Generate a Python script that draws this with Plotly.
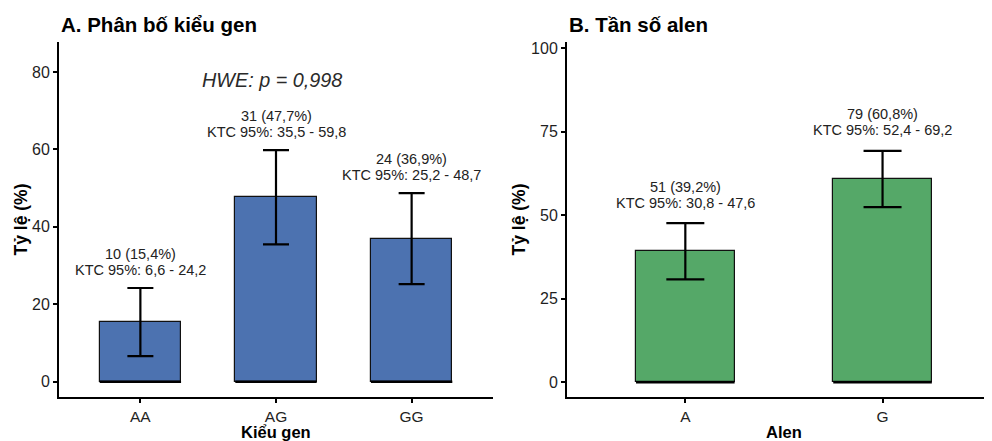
import plotly.graph_objects as go

# ---- data ----
genotypes = ["AA", "AG", "GG"]
geno_counts = [10, 31, 24]
geno_pct = [15.4, 47.7, 36.9]
geno_lo = [6.6, 35.5, 25.2]
geno_hi = [24.2, 59.8, 48.7]

alleles = ["A", "G"]
allele_counts = [51, 79]
allele_pct = [39.2, 60.8]
allele_lo = [30.8, 52.4]
allele_hi = [47.6, 69.2]

hwe_text = "HWE: p = 0,998"
left_ticks = [0, 20, 40, 60, 80]
right_ticks = [0, 25, 50, 75, 100]

OFF = 8  # page body margin
W, H = 992 - OFF, 441 - OFF
FONT = "Liberation Sans, Arial, sans-serif"
BLUE = "#4C72B0"
GREEN = "#55A868"
TXT = "#222222"

def fmt(v):
    return f"{v:.1f}".replace(".", ",")

def px_x(p):
    return (p - OFF) / W

def px_y(p):
    return 1 - (p - OFF) / H

fig = go.Figure()

panels = [
    dict(cats=genotypes, cnt=geno_counts, pct=geno_pct, lo=geno_lo, hi=geno_hi,
         color=BLUE, width=0.6, cap=13, xa="x", ya="y", shifts=(18, 34)),
    dict(cats=alleles, cnt=allele_counts, pct=allele_pct, lo=allele_lo, hi=allele_hi,
         color=GREEN, width=0.5, cap=19, xa="x2", ya="y2", shifts=(20.5, 36.5)),
]

annotations = []
for p in panels:
    idx = list(range(len(p["cats"])))
    fig.add_trace(go.Bar(
        x=idx, y=p["pct"], width=p["width"],
        marker=dict(color=p["color"], line=dict(color="#111111", width=1.2)),
        error_y=dict(type="data", symmetric=False,
                     array=[h - v for h, v in zip(p["hi"], p["pct"])],
                     arrayminus=[v - l for v, l in zip(p["pct"], p["lo"])],
                     color="black", thickness=2.2, width=p["cap"]),
        xaxis=p["xa"], yaxis=p["ya"], showlegend=False, hoverinfo="skip",
    ))
    # thick bottom edge of bars
    bx, by = [], []
    for i in idx:
        bx += [i - p["width"] / 2, i + p["width"] / 2, None]
        by += [0, 0, None]
    fig.add_trace(go.Scatter(x=bx, y=by, mode="lines",
                             line=dict(color="black", width=2.5),
                             xaxis=p["xa"], yaxis=p["ya"], showlegend=False,
                             hoverinfo="skip"))
    for i in idx:
        line1 = f"{p['cnt'][i]} ({fmt(p['pct'][i])}%)"
        line2 = f"KTC 95%: {fmt(p['lo'][i])} - {fmt(p['hi'][i])}"
        for txt, sh in ((line2, p["shifts"][0]), (line1, p["shifts"][1])):
            annotations.append(dict(
                x=i, y=p["hi"][i], xref=p["xa"], yref=p["ya"], text=txt,
                showarrow=False, yanchor="middle", yshift=sh,
                font=dict(family=FONT, size=14.5, color=TXT)))

annotations.append(dict(x=1, y=78, xref="x", yref="y", text=f"<i>{hwe_text}</i>",
                        showarrow=False, xshift=-4,
                        font=dict(family=FONT, size=19.8, color="#2a2a2a")))

# titles
annotations.append(dict(x=px_x(59), y=px_y(24), xref="paper", yref="paper",
                        text="<b>A. Phân bố kiểu gen</b>", showarrow=False,
                        xanchor="left", yanchor="middle",
                        font=dict(family=FONT, size=20.5, color="black")))
annotations.append(dict(x=px_x(567), y=px_y(24), xref="paper", yref="paper",
                        text="<b>B. Tần số alen</b>", showarrow=False,
                        xanchor="left", yanchor="middle",
                        font=dict(family=FONT, size=20.5, color="black")))
# axis titles
for xc, t in ((276, "Kiểu gen"), (784, "Alen")):
    annotations.append(dict(x=px_x(xc), y=px_y(431.5), xref="paper", yref="paper",
                            text=f"<b>{t}</b>", showarrow=False,
                            xanchor="center", yanchor="middle",
                            font=dict(family=FONT, size=16.5, color="black")))
for xc in (20, 518):
    annotations.append(dict(x=px_x(xc), y=px_y(219.5), xref="paper", yref="paper",
                            text="<b>Tỷ lệ (%)</b>", showarrow=False, textangle=-90,
                            xanchor="center", yanchor="middle",
                            font=dict(family=FONT, size=17.5, color="black")))

axis_common = dict(showline=True, linecolor="black", linewidth=2, ticks="outside",
                   ticklen=4, tickwidth=1.5, tickcolor="black", showgrid=False,
                   zeroline=False, automargin=False,
                   tickfont=dict(family=FONT, size=16, color="#1f1f1f"))
xtick_font = dict(family=FONT, size=15.5, color="#1f1f1f")

ydom = [px_y(397), px_y(42)]
fig.update_layout(
    template="none",
    width=W, height=H, margin=dict(l=0, r=0, t=0, b=0, autoexpand=False),
    paper_bgcolor="white", plot_bgcolor="white", bargap=0,
    annotations=annotations,
    xaxis=dict(domain=[px_x(59), px_x(493)], range=[-0.6, 2.6], tickmode="array",
               tickvals=list(range(len(genotypes))), ticktext=genotypes, anchor="y",
               **{**axis_common, "tickfont": xtick_font}),
    yaxis=dict(domain=ydom, range=[-3.95, 87.75], tickmode="array", tickvals=left_ticks,
               anchor="x", **axis_common),
    xaxis2=dict(domain=[px_x(567), 1.0], range=[-0.6, 1.555], tickmode="array",
                tickvals=list(range(len(alleles))), ticktext=alleles, anchor="y2",
                **{**axis_common, "tickfont": xtick_font}),
    yaxis2=dict(domain=ydom, range=[-4.4, 101.8], tickmode="array", tickvals=right_ticks,
                anchor="x2", **axis_common),
)

fig.write_html("out.html")
